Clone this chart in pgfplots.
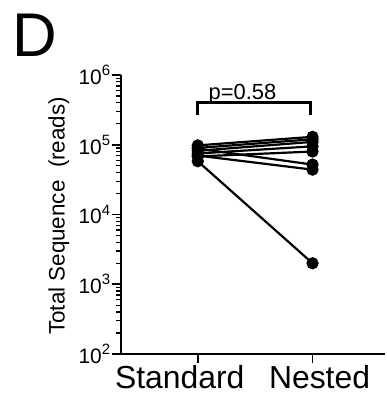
\documentclass[border=0pt]{standalone}
\usepackage{fontspec}
\setmainfont{Liberation Sans}
\usepackage{pgfplots}
\pgfplotsset{compat=1.18}
\newcommand\tp[1]{10\raisebox{0.42em}{\fontsize{15}{15}\selectfont #1}}
\begin{document}
\begin{tikzpicture}
\begin{axis}[
  scale only axis, width=264bp, height=279bp,
  ymode=log, ymin=1e2, ymax=1e6,
  xmin=-0.67, xmax=1.63,
  clip=false,
  axis x line=bottom, axis y line=left,
  axis line style={-, line width=2.6bp, black},
  xtick={0,1}, xticklabels={Standard\kern36bp\relax,\kern14bp Nested},
  ytick={1e2,1e3,1e4,1e5,1e6},
  yticklabels={\tp{2},\tp{3},\tp{4},\tp{5},\tp{6}},
  tick align=outside,
  major tick length=9bp, minor tick length=4.5bp,
  every tick/.style={black, line width=1.8bp},
  every minor tick/.style={black, line width=1.4bp},
  yticklabel style={font=\fontsize{21}{22}\selectfont, inner sep=1.5bp},
  xticklabel style={font=\fontsize{32}{33}\selectfont, inner sep=2bp},
  ylabel={Total Sequence\ \ (reads)},
  ylabel style={font=\fontsize{22.5}{24}\selectfont, at={(axis description cs:-0.235,0.495)}, anchor=center, rotate=0},
  pt/.style={black, line width=2.2bp, mark=*, mark size=5bp, mark options={fill=black, solid}},
]
\path (rel axis cs:-0.458,-0.147) rectangle (rel axis cs:1.0,1.269);
\node[font=\fontsize{62}{62}\selectfont, anchor=center] at (rel axis cs:-0.326,1.143) {D};
\draw[line width=2.6bp] (axis cs:0,2.7e5) -- (axis cs:0,4e5) -- (axis cs:0.98,4e5) -- (axis cs:0.98,2.7e5);
\node[font=\fontsize{22}{22}\selectfont, anchor=base] at (axis cs:0.39,4.5e5) {p=0.58};
\addplot[pt] coordinates {(0,9.8e4) (1,1.3e5)};
\addplot[pt] coordinates {(0,9.0e4) (1,1.2e5)};
\addplot[pt] coordinates {(0,8.2e4) (1,1.1e5)};
\addplot[pt] coordinates {(0,7.5e4) (1,9.5e4)};
\addplot[pt] coordinates {(0,6.8e4) (1,8.0e4)};
\addplot[pt] coordinates {(0,8.8e4) (1,5.2e4)};
\addplot[pt] coordinates {(0,7.0e4) (1,4.4e4)};
\addplot[pt] coordinates {(0,5.8e4) (1,2.0e3)};
\end{axis}
\end{tikzpicture}
\end{document}
